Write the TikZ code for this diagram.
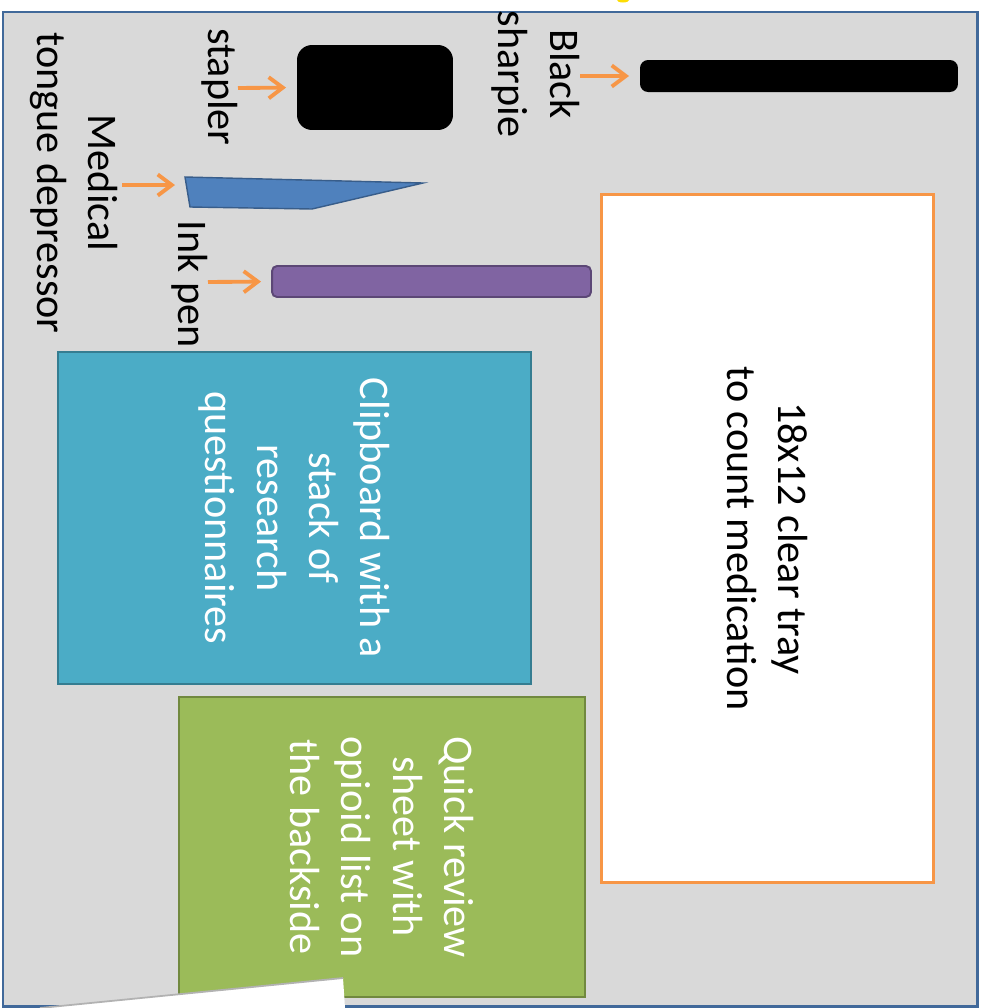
\documentclass[tikz,border=0pt]{standalone}
\usepackage{fontspec}
\setmainfont{Carlito}
\usetikzlibrary{arrows.meta}
\definecolor{paneGray}{HTML}{D9D9D9}
\definecolor{frameBlue}{HTML}{41699A}
\definecolor{arrowOrange}{HTML}{F79646}
\definecolor{depBlue}{HTML}{4F81BD}
\definecolor{depBorder}{HTML}{385D8A}
\definecolor{penPurple}{HTML}{8064A2}
\definecolor{penBorder}{HTML}{5C4776}
\definecolor{clipTeal}{HTML}{4BACC6}
\definecolor{clipBorder}{HTML}{357D91}
\definecolor{sheetGreen}{HTML}{9BBB59}
\definecolor{sheetBorder}{HTML}{71893F}
\begin{document}
\begin{tikzpicture}[x=0.02cm,y=-0.02cm,
	lbl/.style={rotate=-90,align=center,font=\fontsize{24}{29.4}\selectfont},
	pointer/.style={draw=arrowOrange,line width=2.2pt,-{Straight Barb[length=8pt,width=12pt]},shorten >=0.22cm},
	item/.style={inner sep=0pt,outer sep=0pt},
	card/.style={rotate=-90,align=center,inner sep=0pt,outer sep=0pt,font=\fontsize{24}{29.4}\selectfont}]
	\useasboundingbox (0,0) rectangle (984,1008);
	\fill[yellow!80!orange] (623,0) ellipse (0.12cm and 0.05cm);
	\draw[draw=frameBlue,fill=paneGray,line width=1.7pt] (3,12) rectangle (977,1006);
	\node[item,fill=black,rounded corners=0.16cm,minimum width=6.36cm,minimum height=0.64cm] (sharpie) at (799,76) {};
	\node[item,fill=black,rounded corners=0.3cm,minimum width=3.12cm,minimum height=1.7cm] (stapler) at (375,87.5) {};
	\node[item,draw=penBorder,fill=penPurple,line width=1.1pt,rounded corners=0.1cm,minimum width=6.38cm,minimum height=0.62cm] (pen) at (431.5,281.5) {};
	\filldraw[fill=depBlue,draw=depBorder,line width=0.8pt] (185,177) -- (423,183) -- (312,209) -- (190,207) -- cycle;
	\coordinate (depressor) at (186,185);
	\node[card,draw=arrowOrange,fill=white,line width=1.7pt,minimum width=13.78cm,minimum height=6.66cm] (tray) at (767.5,538.5) {18x12 clear tray\\to count medication};
	\node[card,draw=clipBorder,fill=clipTeal,text=white,line width=1.1pt,minimum width=6.64cm,minimum height=9.46cm] (clipboard) at (294.5,518) {Clipboard with a\\stack of\\research\\questionnaires};
	\node[card,draw=sheetBorder,fill=sheetGreen,text=white,line width=1.1pt,minimum width=6cm,minimum height=8.12cm] (review) at (382,847) {Quick review\\sheet with\\opioid list on\\the backside};
	\fill[white] (40,1008) -- (343,978) -- (345,1008) -- cycle;
	\draw[gray!60,line width=1pt] (40,1008) -- (343,978);
	\node[lbl] (sharpieLbl) at (536,74) {Black\\sharpie};
	\node[lbl] (staplerLbl) at (220,87) {stapler};
	\node[lbl] (depressorLbl) at (74,183) {Medical\\tongue depressor};
	\node[lbl] (penLbl) at (190,284) {Ink pen};
	\coordinate (sharpieTail) at (580,76);
	\coordinate (staplerTail) at (238,88);
	\coordinate (depressorTail) at (122,185);
	\coordinate (penTail) at (208,282);
	\draw[pointer] (sharpieTail) -- (sharpie.west);
	\draw[pointer] (staplerTail) -- (stapler.west);
	\draw[pointer] (depressorTail) -- (depressor);
	\draw[pointer] (penTail) -- (pen.west);
\end{tikzpicture}
\end{document}
